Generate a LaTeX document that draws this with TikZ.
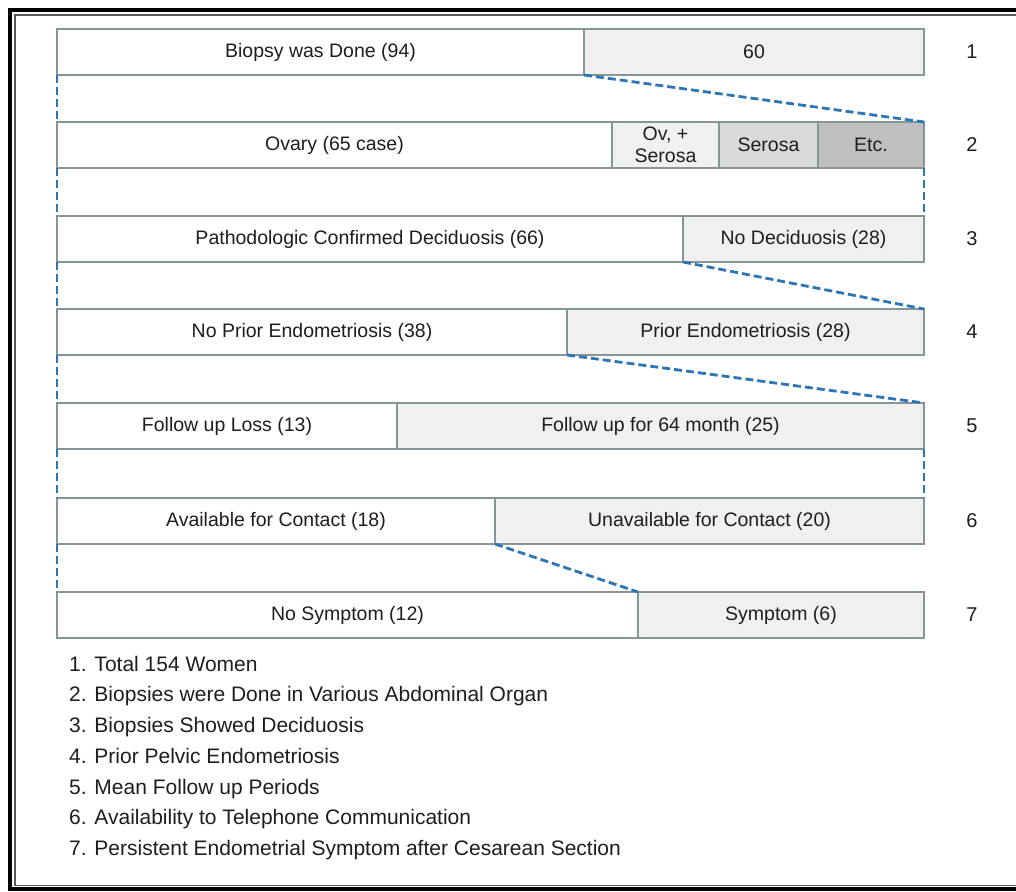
\documentclass[tikz,border=0pt]{standalone}
\usepackage{fontspec}
\setmainfont{Liberation Sans}
\begin{document}
\begin{tikzpicture}[x=1pt,y=-1pt,
  cell/.style={draw=boxline, line width=2.8pt, inner sep=0pt, outer sep=0pt,
    minimum height=46pt, anchor=north west, text=txt,
    font=\fontsize{19.5}{21}\selectfont, align=center},
  lite/.style={cell, fill=fillA},
  midc/.style={cell, fill=fillB},
  dark/.style={cell, fill=fillC},
  plain/.style={cell, fill=white},
  link/.style={draw=linkblue, line width=2.8pt, dash pattern=on 8pt off 4pt},
  rownum/.style={text=txt, font=\fontsize{20}{22}\selectfont},
  legend/.style={anchor=west, text=txt, font=\fontsize{21}{23}\selectfont,
    inner sep=0pt, text height=15pt, text depth=4.5pt}
]
\definecolor{boxline}{HTML}{869698}
\definecolor{fillA}{HTML}{F0F0F0}
\definecolor{fillB}{HTML}{D9D9D9}
\definecolor{fillC}{HTML}{BFBFBF}
\definecolor{linkblue}{HTML}{2E75B6}
\definecolor{txt}{HTML}{1E1E1E}
\useasboundingbox (0,0) rectangle (1016,891);
\fill[white] (0,0) rectangle (1016,891);
% frame
\draw[black, line width=4pt] (1016,10) -- (10,10) -- (10,889) -- (1016,889);
\draw[black!65, line width=1.5pt] (1016,15) -- (15,15) -- (15,885.5) -- (1016,885.5);

% row 1
\node[plain, minimum width=527pt] (r1a) at (57,29) {Biopsy was Done (94)};
\node[lite, minimum width=340pt] (r1b) at (584,29) {60};
% row 2
\node[plain, minimum width=555pt] (r2a) at (57,122) {Ovary (65 case)};
\node[lite, minimum width=107pt] (r2b) at (612,122) {Ov, +\\[1pt]Serosa};
\node[midc, minimum width=99pt] (r2c) at (719,122) {Serosa};
\node[dark, minimum width=106pt] (r2d) at (818,122) {Etc.};
% row 3
\node[plain, minimum width=626pt] (r3a) at (57,216) {Pathodologic Confirmed Deciduosis (66)};
\node[lite, minimum width=241pt] (r3b) at (683,216) {No Deciduosis (28)};
% row 4
\node[plain, minimum width=510pt] (r4a) at (57,309) {No Prior Endometriosis (38)};
\node[lite, minimum width=357pt] (r4b) at (567,309) {Prior Endometriosis (28)};
% row 5
\node[plain, minimum width=340pt] (r5a) at (57,403) {Follow up Loss (13)};
\node[lite, minimum width=527pt] (r5b) at (397,403) {Follow up for 64 month (25)};
% row 6
\node[plain, minimum width=438pt] (r6a) at (57,498) {Available for Contact (18)};
\node[lite, minimum width=429pt] (r6b) at (495,498) {Unavailable for Contact (20)};
% row 7
\node[plain, minimum width=581pt] (r7a) at (57,592) {No Symptom (12)};
\node[lite, minimum width=286pt] (r7b) at (638,592) {Symptom (6)};

% connectors
\draw[link] (r1a.south west) -- (r2a.north west);
\draw[link] (r1b.south west) -- (r2d.north east);
\draw[link] (r2a.south west) -- (r3a.north west);
\draw[link] (r2d.south east) -- (r3b.north east);
\draw[link] (r3a.south west) -- (r4a.north west);
\draw[link] (r3b.south west) -- (r4b.north east);
\draw[link] (r4a.south west) -- (r5a.north west);
\draw[link] (r4b.south west) -- (r5b.north east);
\draw[link] (r5a.south west) -- (r6a.north west);
\draw[link] (r5b.south east) -- (r6b.north east);
\draw[link] (r6a.south west) -- (r7a.north west);
\draw[link] (r6b.south west) -- (r7b.north west);

% row numbers
\node[rownum] (n1) at (972,52) {1};
\node[rownum] (n2) at (972,145) {2};
\node[rownum] (n3) at (972,239) {3};
\node[rownum] (n4) at (972,332) {4};
\node[rownum] (n5) at (972,426) {5};
\node[rownum] (n6) at (972,521) {6};
\node[rownum] (n7) at (972,615) {7};

% legend
\node[legend] (l1) at (69,666) {1. Total 154 Women};
\node[legend] (l2) at (69,696.7) {2. Biopsies were Done in Various Abdominal Organ};
\node[legend] (l3) at (69,727.4) {3. Biopsies Showed Deciduosis};
\node[legend] (l4) at (69,758.1) {4. Prior Pelvic Endometriosis};
\node[legend] (l5) at (69,788.8) {5. Mean Follow up Periods};
\node[legend] (l6) at (69,819.5) {6. Availability to Telephone Communication};
\node[legend] (l7) at (69,850.2) {7. Persistent Endometrial Symptom after Cesarean Section};
\end{tikzpicture}
\end{document}
